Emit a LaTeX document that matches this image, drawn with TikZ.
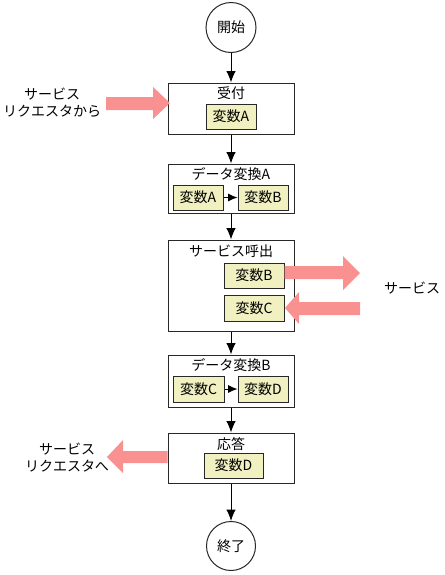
\documentclass[tikz,border=0pt]{standalone}
\usepackage{fontspec}
\setmainfont{Noto Sans CJK JP}
\usetikzlibrary{arrows.meta,fit}
\definecolor{varfill}{RGB}{240,240,192}
\definecolor{pinkarrow}{RGB}{250,145,145}
\definecolor{edge}{RGB}{40,40,40}
\begin{document}
\begin{tikzpicture}[x=0.75pt,y=-0.75pt,
  txt/.style={font=\fontsize{10.5}{13}\selectfont, inner sep=0pt},
  term/.style={circle, draw=edge, line width=0.75pt, fill=white, minimum size=37.5pt, inner sep=0pt, font=\fontsize{10.5}{13}\selectfont},
  procbox/.style={draw=edge, line width=0.75pt, fill=white, inner sep=0pt},
  varbox/.style={draw=edge, line width=0.75pt, fill=varfill, inner sep=0pt},
  flow/.style={-{Latex[length=8.5pt,width=7pt]}, line width=0.75pt, draw=black},
  innerflow/.style={-{Latex[length=7pt,width=6pt]}, line width=0.75pt, draw=black},
  bigarrow/.style={fill=pinkarrow, draw=none}]
\useasboundingbox (0,0) rectangle (445,575);

% terminals
\node[term] (start) at (231,27.5) {開始};
\node[term, minimum size=36.75pt] (end) at (231,546) {終了};

% process boxes
\node[procbox, fit={(168,83) (294,134)}] (b1) {};
\node[procbox, fit={(168,164) (294,213)}] (b2) {};
\node[procbox, fit={(168,240) (294,331)}] (b3) {};
\node[procbox, fit={(168,355) (294,407)}] (b4) {};
\node[procbox, fit={(168,433) (294,483)}] (b5) {};

% titles
\node[txt] (t1) at (231,93) {受付};
\node[txt] (t2) at (231,174) {データ変換A};
\node[txt] (t3) at (231,251) {サービス呼出};
\node[txt] (t4) at (231,365.5) {データ変換B};
\node[txt] (t5) at (231,444) {応答};

% variable boxes
\node[varbox, fit={(206,104) (256,129)}] (v1a) {};
\node[txt] at (v1a) {変数A};
\node[varbox, fit={(173,185) (223,210)}] (v2a) {};
\node[txt] at (v2a) {変数A};
\node[varbox, fit={(238,185) (288,210)}] (v2b) {};
\node[txt] at (v2b) {変数B};
\node[varbox, fit={(224,263) (284,288)}] (v3b) {};
\node[txt] at (v3b) {変数B};
\node[varbox, fit={(224,295) (284,321)}] (v3c) {};
\node[txt] at (v3c) {変数C};
\node[varbox, fit={(173,376) (224,402)}] (v4c) {};
\node[txt] at (v4c) {変数C};
\node[varbox, fit={(238,376) (288,402)}] (v4d) {};
\node[txt] at (v4d) {変数D};
\node[varbox, fit={(204,453) (263,478)}] (v5d) {};
\node[txt] at (v5d) {変数D};

% flow connectors
\draw[flow] (start) -- (b1);
\draw[flow] (b1) -- (b2);
\draw[flow] (b2) -- (b3);
\draw[flow] (b3) -- (b4);
\draw[flow] (b4) -- (b5);
\draw[flow] (b5) -- (end);
\draw[innerflow] (v2a) -- (v2b);
\draw[innerflow] (v4c) -- (v4d);

% outside labels
\node[txt, align=center] (req1) at (52,103) {サービス\\リクエスタから};
\node[txt] (svc) at (412,288) {サービス};
\node[txt, align=center] (req2) at (67,457.5) {サービス\\リクエスタへ};

% big pink arrows
\fill[bigarrow] (106,97) -- (153,97) -- (153,87) -- (170,103) -- (153,119) -- (153,110) -- (106,110) -- cycle;
\fill[bigarrow] (284.5,266) -- (343,266) -- (343,256) -- (360,273) -- (343,290) -- (343,279) -- (284.5,279) -- cycle;
\fill[bigarrow] (360,302) -- (299,302) -- (299,292) -- (285,308) -- (299,324) -- (299,315) -- (360,315) -- cycle;
\fill[bigarrow] (167.5,451) -- (123,451) -- (123,440) -- (107,457) -- (123,473) -- (123,463) -- (167.5,463) -- cycle;
\end{tikzpicture}
\end{document}
